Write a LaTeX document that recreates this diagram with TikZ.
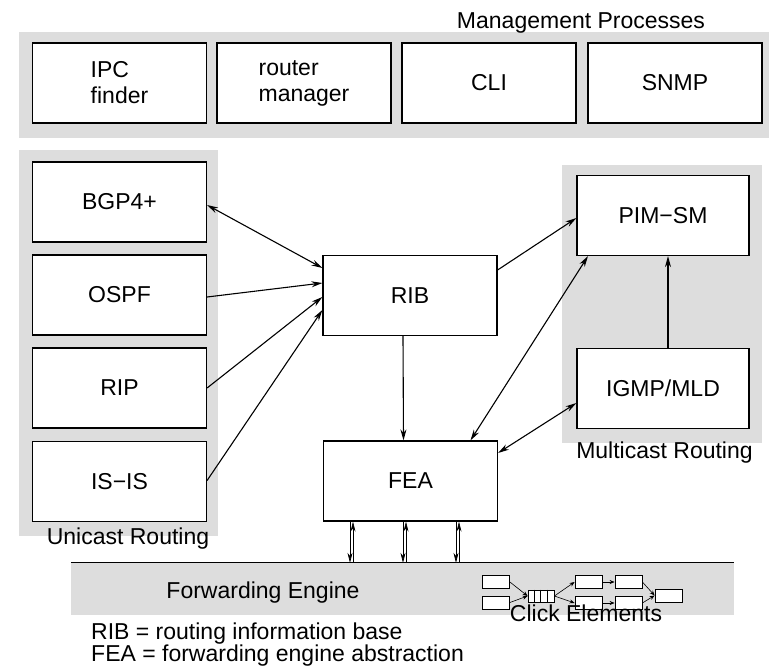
\documentclass[tikz,border=0pt]{standalone}
\usepackage{fontspec}
\setmainfont{Liberation Sans}
\usetikzlibrary{arrows.meta, positioning}
\definecolor{panelgray}{RGB}{221,221,221}

\begin{document}
\begin{tikzpicture}[x=1pt, y=-1pt,
    font=\fontsize{23}{26}\selectfont,
    module/.style={rectangle, draw, line width=1.2pt, fill=white, minimum width=174pt, minimum height=80pt, align=left},
    panel/.style={fill=panelgray},
    grouplabel/.style={anchor=base, inner sep=0pt},
    arrow/.style={-{Stealth[length=11pt,width=6pt]}, line width=1.1pt},
    biarrow/.style={{Stealth[length=11pt,width=6pt]}-{Stealth[length=11pt,width=6pt]}, line width=1.1pt},
    thinarrow/.style={-{Stealth[length=10pt,width=5pt]}, line width=0.7pt},
    elem/.style={rectangle, draw, line width=0.8pt, fill=white, minimum width=27pt, minimum height=13pt, inner sep=0pt},
    elemarrow/.style={-{Stealth[length=5pt,width=4pt]}, line width=0.6pt}
]
\useasboundingbox (0,0) rectangle (769,668);

\fill[panel] (19,32) rectangle (769,138);
\fill[panel] (19,150) rectangle (218,536);
\fill[panel] (562,165) rectangle (762,443);

\node[grouplabel] (mgmt) at (581,29) {Management Processes};
\node[module] (ipc) at (119.5,83) {IPC\\finder};
\node[module] (rmgr) at (304,83) {router\\manager};
\node[module] (cli) at (489,83) {CLI};
\node[module] (snmp) at (675,83) {SNMP};

\node[module] (bgp) at (119.5,202) {BGP4+};
\node[module] (ospf) at (119.5,295) {OSPF};
\node[module] (rip) at (119.5,388) {RIP};
\node[module] (isis) at (119.5,481.5) {IS−IS};
\node[grouplabel] (unicast) at (128,544) {Unicast Routing};

\node[module] (rib) at (410,295.5) {RIB};
\node[module] (fea) at (410.5,481) {FEA};

\node[module, minimum width=172pt] (pim) at (663,215.5) {PIM−SM};
\node[module, minimum width=172pt] (igmp) at (663,388.5) {IGMP/MLD};
\node[grouplabel] (multicast) at (664.5,458) {Multicast Routing};

\node[fill=panelgray, minimum width=663pt, minimum height=52pt, inner sep=0pt] (fwd) at (402.5,589) {};
\draw[line width=1.2pt] (fwd.north west) -- (fwd.north east);
\node[grouplabel] (fwdlabel) at (263,598) {Forwarding Engine};

\draw[biarrow] ([yshift=-3pt]bgp.east) -- ([yshift=27.5pt]rib.west);
\draw[arrow] ([yshift=-2pt]ospf.east) -- ([yshift=12.5pt]rib.west);
\draw[arrow] (rip.east) -- ([yshift=-1.5pt]rib.west);
\draw[arrow] ([yshift=1pt]isis.east) -- ([yshift=-14.5pt]rib.west);
\draw[arrow] ([yshift=25.5pt]rib.east) -- ([yshift=-2.5pt]pim.west);
\draw[arrow] ([xshift=-7pt]rib.south) -- ([xshift=-7pt]fea.north);
\draw[biarrow] ([xshift=60pt]fea.north) -- ([xshift=-75pt]pim.south);
\draw[arrow] ([xshift=5pt]igmp.north) -- ([xshift=5pt]igmp.north |- pim.south);
\draw[biarrow] ([yshift=28pt]fea.east) -- ([yshift=-14.5pt]igmp.west);
\foreach \dx in {-59,-6,47} {
  \draw[thinarrow] ([xshift=\dx*1pt-1.5pt]fea.south) -- ([xshift=\dx*1pt-1.5pt]fea.south |- fwd.north);
  \draw[thinarrow] ([xshift=\dx*1pt+1.5pt]fea.south |- fwd.north) -- ([xshift=\dx*1pt+1.5pt]fea.south);
}

\node[elem] (in1) at (496,582) {};
\node[elem] (in2) at (496,602.5) {};
\node[elem, minimum width=26pt, minimum height=12pt] (queue) at (541,596) {};
\foreach \i in {1,2,3}
  \draw[line width=0.8pt] ([xshift=\i*6.5pt]queue.north west) -- ([xshift=\i*6.5pt]queue.south west);
\node[elem] (e1) at (588.5,582) {};
\node[elem] (e2) at (588.5,603) {};
\node[elem] (e3) at (628.5,582) {};
\node[elem] (e4) at (628.5,603) {};
\node[elem] (out) at (668.5,595.5) {};
\draw[elemarrow] (in1.east) -- (queue.west);
\draw[elemarrow] (in2.east) -- (queue.west);
\draw[elemarrow] (queue.east) -- (e1.west);
\draw[elemarrow] (queue.east) -- (e2.west);
\draw[elemarrow] (e1) -- (e3);
\draw[elemarrow] (e2) -- (e4);
\draw[elemarrow] (e3.east) -- (out.west);
\draw[elemarrow] (e4.east) -- (out.west);
\node[grouplabel] (clicklabel) at (586,621) {Click Elements};

\node[anchor=base west, inner sep=0pt, align=left, font=\fontsize{23}{22}\selectfont] (legend) at (91,661) {RIB = routing information base\\FEA = forwarding engine abstraction};
\end{tikzpicture}
\end{document}
